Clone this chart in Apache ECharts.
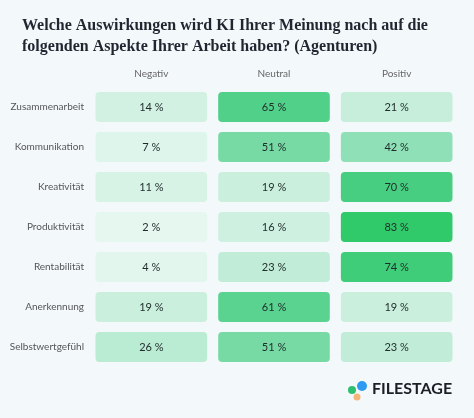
<!DOCTYPE html>
<html><head><meta charset="utf-8">
<script src="https://cdn.jsdelivr.net/npm/echarts@6/dist/echarts.min.js"></script>
<style>html,body{margin:0;background:#f3f8fb}#main{width:474px;height:418px}</style>
</head><body><div id="main"></div>
<script>
var columns = ['Negativ', 'Neutral', 'Positiv'];
var aspects = ['Zusammenarbeit', 'Kommunikation', 'Kreativität', 'Produktivität', 'Rentabilität', 'Anerkennung', 'Selbstwertgefühl'];
var negativ = [14, 7, 11, 2, 4, 19, 26];
var neutral = [65, 51, 19, 16, 23, 61, 51];
var positiv = [21, 42, 70, 83, 74, 19, 23];

var cols = [negativ, neutral, positiv];
var data = [];
cols.forEach(function (vals, c) {
  vals.forEach(function (v, r) { data.push([c, r, v]); });
});

var chart = echarts.init(document.getElementById('main'));
chart.setOption({
  backgroundColor: '#f3f8fb',
  title: {
    text: 'Welche Auswirkungen wird KI Ihrer Meinung nach auf die\nfolgenden Aspekte Ihrer Arbeit haben? (Agenturen)',
    left: 17, top: 10,
    textStyle: { fontFamily: 'Liberation Serif', fontWeight: 'bold', fontSize: 16, lineHeight: 21, color: '#1f2630' }
  },
  grid: { left: 90, right: 16, top: 87, bottom: 51 },
  xAxis: {
    type: 'category', data: columns, position: 'top',
    axisLine: { show: false }, axisTick: { show: false }, splitLine: { show: false },
    axisLabel: { color: '#666', fontFamily: 'Lato', fontSize: 10, margin: 8 }
  },
  yAxis: {
    type: 'category', data: aspects, inverse: true,
    axisLine: { show: false }, axisTick: { show: false }, splitLine: { show: false },
    axisLabel: { color: '#555', fontFamily: 'Lato', fontSize: 10, margin: 6 }
  },
  visualMap: {
    show: false, min: 0, max: 85, dimension: 2,
    inRange: { color: ['#e8f8f1', '#c6eedb', '#8fe0b6', '#52d08a', '#2dc968'] }
  },
  series: [{
    type: 'custom',
    data: data,
    encode: { x: 0, y: 1 },
    renderItem: function (params, api) {
      var p = api.coord([api.value(0), api.value(1)]);
      var s = api.size([1, 1]);
      var w = s[0] * 0.91, h = s[1] * 0.75;
      return {
        type: 'rect',
        shape: { x: p[0] - w / 2, y: p[1] - h / 2, width: w, height: h, r: 4 },
        style: {
          fill: api.visual('color'),
          text: api.value(2) + ' %',
          textFill: '#1f2a2a',
          fontFamily: 'Lato', fontSize: 11
        }
      };
    }
  }],
  graphic: [
    { type: 'circle', shape: { cx: 352, cy: 390, r: 4 }, style: { fill: '#2fbf71' } },
    { type: 'circle', shape: { cx: 362, cy: 386, r: 5 }, style: { fill: '#2d9cf0' } },
    { type: 'circle', shape: { cx: 357, cy: 397, r: 3.5 }, style: { fill: '#f5b57a' } },
    { type: 'text', left: 372, top: 381, style: { text: 'FILESTAGE', font: 'bold 16px Lato', fill: '#1c1f26' } }
  ]
});
</script></body></html>
